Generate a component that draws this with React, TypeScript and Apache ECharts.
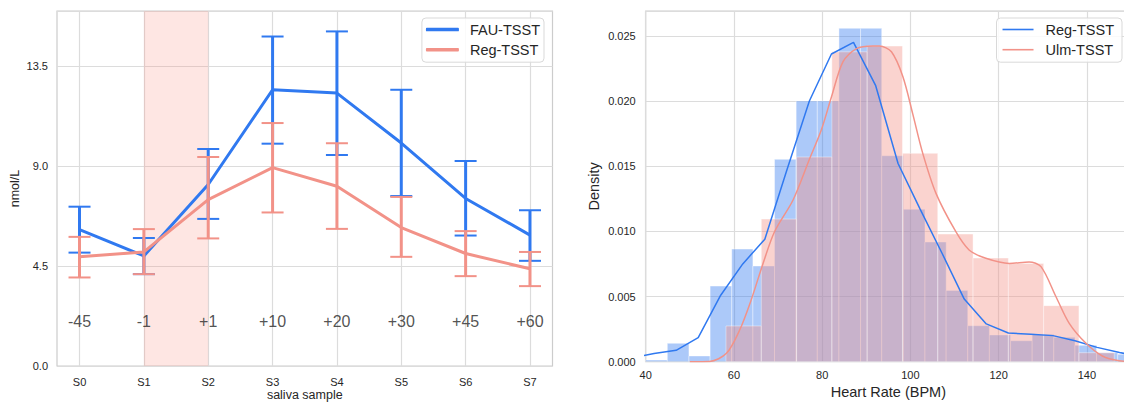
import React, { useEffect, useRef } from 'react';
import * as echarts from 'echarts';

const FONT = '"Liberation Sans", Arial, Helvetica, sans-serif';
const BLUE = '#3079f0';
const SALMON = '#f29288';
const SHADE = 'rgba(250,128,114,0.2)';
const TXT = '#262626';
const GRIDC = '#dcdcdc';
const FRAME = '#cccccc';

// ---------- left chart data ----------
const samples = ['S0', 'S1', 'S2', 'S3', 'S4', 'S5', 'S6', 'S7'];
const sampleIdx = [0, 1, 2, 3, 4, 5, 6, 7];
const offsets = ['-45', '-1', '+1', '+10', '+20', '+30', '+45', '+60'];
const offsetLabelY = 2.0;
const yTicksLeft = [0, 4.5, 9.0, 13.5];

const fauMean = [6.15, 4.96, 8.18, 12.45, 12.3, 10.05, 7.55, 5.9];
const fauLow = [5.11, 4.14, 6.63, 10.02, 9.51, 7.66, 5.88, 4.74];
const fauHigh = [7.18, 5.77, 9.78, 14.85, 15.08, 12.45, 9.24, 7.02];

const regMean = [4.92, 5.14, 7.5, 8.94, 8.1, 6.24, 5.07, 4.38];
const regLow = [3.99, 4.14, 5.75, 6.92, 6.18, 4.92, 4.05, 3.6];
const regHigh = [5.82, 6.17, 9.42, 10.95, 10.04, 7.62, 6.08, 5.14];

// ---------- right chart data ----------
const regBinEdges = [40.0, 44.9, 49.8, 54.6, 59.5, 64.3, 69.2, 74.1, 78.9, 83.8, 88.7, 93.5, 98.4, 103.3, 108.1, 113.0, 117.9, 122.7, 127.6, 132.5, 137.3, 142.2, 147.0, 151.9];
const regBinDensity = [0.00013, 0.00141, 0.00044, 0.0058, 0.00864, 0.00734, 0.01552, 0.0200, 0.0200, 0.02557, 0.02557, 0.0158, 0.01169, 0.00918, 0.00547, 0.00276, 0.00205, 0.00161, 0.0021, 0.00187, 0.00126, 0.00069, 0.00057];

const ulmBinEdges = [58.2, 66.2, 74.2, 82.2, 90.2, 98.2, 106.2, 114.2, 122.2, 130.2, 138.2, 146.2];
const ulmBinDensity = [0.00274, 0.01094, 0.0157, 0.02377, 0.02421, 0.01598, 0.00979, 0.00795, 0.00754, 0.0043, 0.00069];

const regKdeX = [36.9, 41.9, 46.9, 51.9, 57.0, 62.0, 67.0, 72.0, 77.1, 82.1, 87.1, 92.1, 97.2, 102.2, 107.2, 112.2, 117.2, 122.2, 127.3, 132.3, 137.3, 142.3, 147.4, 152.4];
const regKdeY = [0.0003, 0.00063, 0.00087, 0.00184, 0.0051, 0.0075, 0.0094, 0.0147, 0.0200, 0.0236, 0.0245, 0.0212, 0.0152, 0.0117, 0.0083, 0.0048, 0.0029, 0.0022, 0.0021, 0.0020, 0.0016, 0.0011, 0.0007, 0.0004];

const ulmKdeX = [50, 54.5, 58.3, 61.3, 63.9, 66.6, 69.2, 73.4, 77.2, 79.8, 82.1, 84.7, 87.7, 91.5, 93.0, 95.7, 98.3, 100.5, 102.8, 105.8, 110.3, 113.3, 117.1, 122.4, 126.9, 129.6, 133.0, 136.0, 139.8, 143.5, 147.3, 152];
const ulmKdeY = [0, 0.00002, 0.00064, 0.00243, 0.00473, 0.00754, 0.00997, 0.0124, 0.0156, 0.01777, 0.0203, 0.0230, 0.0240, 0.02421, 0.02421, 0.02377, 0.02186, 0.01905, 0.01598, 0.01291, 0.00997, 0.00857, 0.00793, 0.00754, 0.00765, 0.00729, 0.00498, 0.00294, 0.00141, 0.00044, 0.00008, 0];

const axisText = { fontSize: 11, color: TXT, fontFamily: FONT };

function errorBars(name: string, color: string, low: number[], high: number[], z: number) {
  return {
    type: 'custom',
    name,
    z,
    silent: true,
    data: low.map((l, i) => [sampleIdx[i], l, high[i]]),
    encode: { x: 0, y: [1, 2] },
    renderItem: (params: any, api: any) => {
      const x = api.value(0);
      const lo = api.coord([x, api.value(1)]);
      const hi = api.coord([x, api.value(2)]);
      const hw = 11;
      return {
        type: 'group',
        children: [
          { type: 'line', shape: { x1: lo[0], y1: lo[1], x2: hi[0], y2: hi[1] }, style: { stroke: color, lineWidth: 3 } },
          { type: 'line', shape: { x1: lo[0] - hw, y1: lo[1], x2: lo[0] + hw, y2: lo[1] }, style: { stroke: color, lineWidth: 2 } },
          { type: 'line', shape: { x1: hi[0] - hw, y1: hi[1], x2: hi[0] + hw, y2: hi[1] }, style: { stroke: color, lineWidth: 2 } },
        ],
      };
    },
  };
}

function histSeries(name: string, edges: number[], dens: number[], color: string, z: number) {
  return {
    type: 'custom',
    name,
    z,
    silent: true,
    clip: true,
    data: dens.map((d, i) => [edges[i], edges[i + 1], d]),
    encode: { x: [0, 1], y: 2 },
    renderItem: (params: any, api: any) => {
      const p0 = api.coord([api.value(0), api.value(2)]);
      const p1 = api.coord([api.value(1), 0]);
      return {
        type: 'rect',
        shape: { x: p0[0], y: p0[1], width: p1[0] - p0[0], height: p1[1] - p0[1] },
        style: { fill: color, opacity: 0.4, stroke: '#ffffff', lineWidth: 1 },
      };
    },
  };
}

function leftOption(): any {
  return {
    animation: false,
    textStyle: { fontFamily: FONT },
    grid: { left: 57, right: 9.5, top: 11, bottom: 37, show: true, borderColor: FRAME, borderWidth: 1.2, outerBoundsMode: 'none', containLabel: false },
    legend: {
      data: ['FAU-TSST', 'Reg-TSST'],
      orient: 'vertical',
      right: 18,
      top: 18,
      icon: 'roundRect',
      itemWidth: 33,
      itemHeight: 3.5,
      itemGap: 5.2,
      padding: [4, 4, 5, 4],
      backgroundColor: 'rgba(255,255,255,0.85)',
      borderColor: '#d9d9d9',
      borderWidth: 1,
      borderRadius: 4,
      textStyle: { fontSize: 14.5, color: TXT, fontFamily: FONT, padding: [0, 0, 0, 6] },
    },
    xAxis: {
      type: 'value',
      min: -0.35,
      max: 7.35,
      axisLine: { show: false },
      axisTick: { show: false, customValues: sampleIdx },
      axisLabel: { ...axisText, customValues: sampleIdx, margin: 10, formatter: (v: number) => samples[Math.round(v)] ?? '' },
      splitLine: { show: true, lineStyle: { color: GRIDC, width: 1.2 } },
      name: 'saliva sample',
      nameLocation: 'middle',
      nameGap: 22,
      nameMoveOverlap: false,
      nameTextStyle: { fontSize: 12.5, color: TXT, fontFamily: FONT },
    },
    yAxis: {
      type: 'value',
      min: 0,
      max: 16,
      interval: 4.5,
      axisLine: { show: false },
      axisTick: { show: false },
      axisLabel: { ...axisText, margin: 9, formatter: (v: number) => (yTicksLeft.some((t) => Math.abs(t - v) < 1e-6) ? v.toFixed(1) : '') },
      splitLine: { show: true, lineStyle: { color: GRIDC, width: 1.2 } },
      name: 'nmol/L',
      nameLocation: 'middle',
      nameGap: 36,
      nameMoveOverlap: false,
      nameTextStyle: { fontSize: 12.5, color: TXT, fontFamily: FONT },
    },
    series: [
      {
        type: 'line',
        name: 'shade',
        data: [],
        z: 1,
        silent: true,
        markArea: { silent: true, itemStyle: { color: SHADE }, data: [[{ xAxis: 1 }, { xAxis: 2 }]] },
      },
      {
        type: 'scatter',
        name: 'offsets',
        z: 2,
        silent: true,
        symbolSize: 1,
        itemStyle: { color: 'rgba(0,0,0,0)' },
        data: offsets.map((_, i) => [sampleIdx[i], offsetLabelY]),
        label: {
          show: true,
          position: 'inside',
          formatter: (p: any) => offsets[p.dataIndex],
          fontSize: 16,
          color: TXT,
          fontFamily: FONT,
        },
      },
      {
        type: 'line',
        name: 'FAU-TSST',
        z: 3,
        data: fauMean.map((v, i) => [sampleIdx[i], v]),
        symbol: 'none',
        lineStyle: { color: BLUE, width: 3 },
        itemStyle: { color: BLUE },
      },
      errorBars('FAU-TSST err', BLUE, fauLow, fauHigh, 3),
      {
        type: 'line',
        name: 'Reg-TSST',
        z: 4,
        data: regMean.map((v, i) => [sampleIdx[i], v]),
        symbol: 'none',
        lineStyle: { color: SALMON, width: 3 },
        itemStyle: { color: SALMON },
      },
      errorBars('Reg-TSST err', SALMON, regLow, regHigh, 4),
    ],
  };
}

function rightOption(): any {
  return {
    animation: false,
    textStyle: { fontFamily: FONT },
    grid: { left: 83.7, right: -7, top: 11, bottom: 41.3, show: true, borderColor: FRAME, borderWidth: 1.2, outerBoundsMode: 'none', containLabel: false },
    legend: {
      data: ['Reg-TSST', 'Ulm-TSST'],
      orient: 'vertical',
      right: 2,
      top: 18,
      icon: 'rect',
      itemWidth: 31,
      itemHeight: 1.6,
      itemGap: 5.2,
      padding: [4, 8, 5, 6],
      backgroundColor: 'rgba(255,255,255,0.85)',
      borderColor: '#d9d9d9',
      borderWidth: 1,
      borderRadius: 4,
      textStyle: { fontSize: 14.5, color: TXT, fontFamily: FONT, padding: [0, 0, 0, 7] },
    },
    xAxis: {
      type: 'value',
      min: 40,
      max: 150,
      interval: 20,
      axisLine: { show: false },
      axisTick: { show: false },
      axisLabel: { ...axisText, margin: 8, formatter: (v: number) => (v > 145 ? '' : String(v)) },
      splitLine: { show: true, lineStyle: { color: GRIDC, width: 1.2 } },
      name: 'Heart Rate (BPM)',
      nameLocation: 'middle',
      nameGap: 23,
      nameMoveOverlap: false,
      nameTextStyle: { fontSize: 14.5, color: TXT, fontFamily: FONT },
    },
    yAxis: {
      type: 'value',
      min: 0,
      max: 0.0269,
      interval: 0.005,
      axisLine: { show: false },
      axisTick: { show: false },
      axisLabel: { ...axisText, margin: 10, formatter: (v: number) => (v > 0.026 ? '' : v.toFixed(3)) },
      splitLine: { show: true, lineStyle: { color: GRIDC, width: 1.2 } },
      name: 'Density',
      nameLocation: 'middle',
      nameGap: 44,
      nameMoveOverlap: false,
      nameTextStyle: { fontSize: 14.5, color: TXT, fontFamily: FONT },
    },
    series: [
      histSeries('Reg-TSST hist', regBinEdges, regBinDensity, BLUE, 2),
      histSeries('Ulm-TSST hist', ulmBinEdges, ulmBinDensity, SALMON, 2),
      {
        type: 'line',
        name: 'Reg-TSST',
        z: 3,
        clip: true,
        data: regKdeX.map((x, i) => [x, regKdeY[i]]),
        symbol: 'none',
        lineStyle: { color: BLUE, width: 1.5 },
        itemStyle: { color: BLUE },
      },
      {
        type: 'line',
        name: 'Ulm-TSST',
        z: 3,
        clip: true,
        smooth: 0.3,
        data: ulmKdeX.map((x, i) => [x, ulmKdeY[i]]),
        symbol: 'none',
        lineStyle: { color: SALMON, width: 1.5 },
        itemStyle: { color: SALMON },
      },
    ],
  };
}

function Chart({ option, left }: { option: any; left: number }) {
  const ref = useRef<HTMLDivElement>(null);
  useEffect(() => {
    if (!ref.current) return;
    const chart = echarts.init(ref.current, undefined, { renderer: 'svg' });
    chart.setOption(option);
    return () => chart.dispose();
  }, []);
  return <div ref={ref} style={{ position: 'absolute', left, top: 0, width: 562, height: 403 }} />;
}

export default function App() {
  return (
    <div style={{ position: 'absolute', left: 0, top: 0, width: 1124, height: 403, background: '#ffffff', overflow: 'hidden' }}>
      <Chart option={leftOption()} left={0} />
      <Chart option={rightOption()} left={562} />
    </div>
  );
}
